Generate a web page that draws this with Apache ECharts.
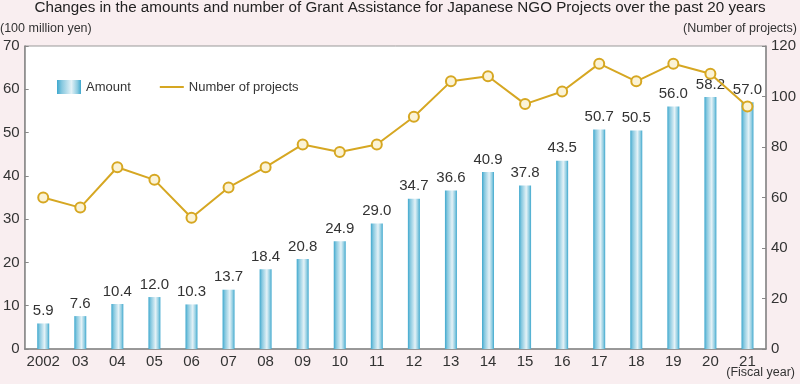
<!DOCTYPE html>
<html>
<head>
<meta charset="utf-8">
<script src="https://cdn.jsdelivr.net/npm/echarts@6/dist/echarts.min.js"></script>
<style>
html,body{margin:0;padding:0;background:#f9eef0;}
#c{width:800px;height:384px;}
</style>
</head>
<body>
<div id="c"></div>
<script>
const categories = ['2002','03','04','05','06','07','08','09','10','11','12','13','14','15','16','17','18','19','20','21'];
const amounts = [5.9,7.6,10.4,12.0,10.3,13.7,18.4,20.8,24.9,29.0,34.7,36.6,40.9,37.8,43.5,50.7,50.5,56.0,58.2,57.0];
const projects = [60,56,72,67,52,64,72,81,78,81,92,106,108,97,102,113,106,113,109,96];
const leftTicks = [0,10,20,30,40,50,60,70];
const rightTicks = [0,20,40,60,80,100,120];

const FONT = '"Liberation Sans", Arial, sans-serif';
const barGrad = new echarts.graphic.LinearGradient(0,0,1,0,[
  {offset:0,color:'#3ea8ce'},
  {offset:0.2,color:'#86c8df'},
  {offset:0.6,color:'#e4f2f7'},
  {offset:0.85,color:'#8ccbe0'},
  {offset:1,color:'#3ea8ce'}
]);

const chart = echarts.init(document.getElementById('c'));
chart.setOption({
  backgroundColor:'#f9eef0',
  textStyle:{fontFamily:FONT},
  title:{
    text:'Changes in the amounts and number of Grant Assistance for Japanese NGO Projects over the past 20 years',
    left:'center', top:0, padding:0,
    textStyle:{fontSize:15.2,fontWeight:'normal',color:'#222',fontFamily:FONT}
  },
  graphic:[
    {type:'text',left:0,top:22,style:{text:'(100 million yen)',fontSize:12.5,fill:'#333',fontFamily:FONT}},
    {type:'text',right:3,top:22,style:{text:'(Number of projects)',fontSize:12.5,fill:'#333',fontFamily:FONT}},
    {type:'text',right:5,top:366,style:{text:'(Fiscal year)',fontSize:12.5,fill:'#333',fontFamily:FONT}}
  ],
  legend:{
    left:52, top:75, itemWidth:24, itemHeight:14, itemGap:28,
    textStyle:{fontSize:13,color:'#333',fontFamily:FONT},
    data:[
      {name:'Amount', icon:'rect'},
      {name:'Number of projects', itemStyle:{opacity:0}}
    ]
  },
  grid:{left:23,right:34,top:46,bottom:35,show:true,backgroundColor:'#fff',borderColor:'#999',borderWidth:1,containLabel:false},
  xAxis:{
    type:'category', data:categories,
    axisLine:{lineStyle:{color:'#888',width:1.5}},
    axisTick:{show:false},
    axisLabel:{fontSize:15,color:'#333',margin:5,interval:0}
  },
  yAxis:[
    {type:'value',min:0,max:70,interval:10,
     axisLine:{show:true,lineStyle:{color:'#888',width:1.5}},
     axisTick:{show:true,inside:true,length:4,lineStyle:{color:'#888'}},
     axisLabel:{fontSize:15,color:'#333',margin:5},
     splitLine:{show:false}},
    {type:'value',min:0,max:120,interval:20,position:'right',
     axisLine:{show:true,lineStyle:{color:'#888',width:1.5}},
     axisTick:{show:true,inside:true,length:4,lineStyle:{color:'#888'}},
     axisLabel:{fontSize:15,color:'#333',margin:5},
     splitLine:{show:false}}
  ],
  series:[
    {name:'Amount',type:'bar',data:amounts,barWidth:12,
     itemStyle:{color:barGrad},
     label:{show:true,position:'top',distance:5,fontSize:15,color:'#333',fontFamily:FONT,
            formatter:p=>p.value.toFixed(1)}},
    {name:'Number of projects',type:'line',yAxisIndex:1,data:projects,
     symbol:'circle',symbolSize:10,
     lineStyle:{color:'#d6a722',width:2},
     itemStyle:{color:'#fbf3d6',borderColor:'#d6a722',borderWidth:2},
     z:5}
  ]
});
</script>
</body>
</html>
